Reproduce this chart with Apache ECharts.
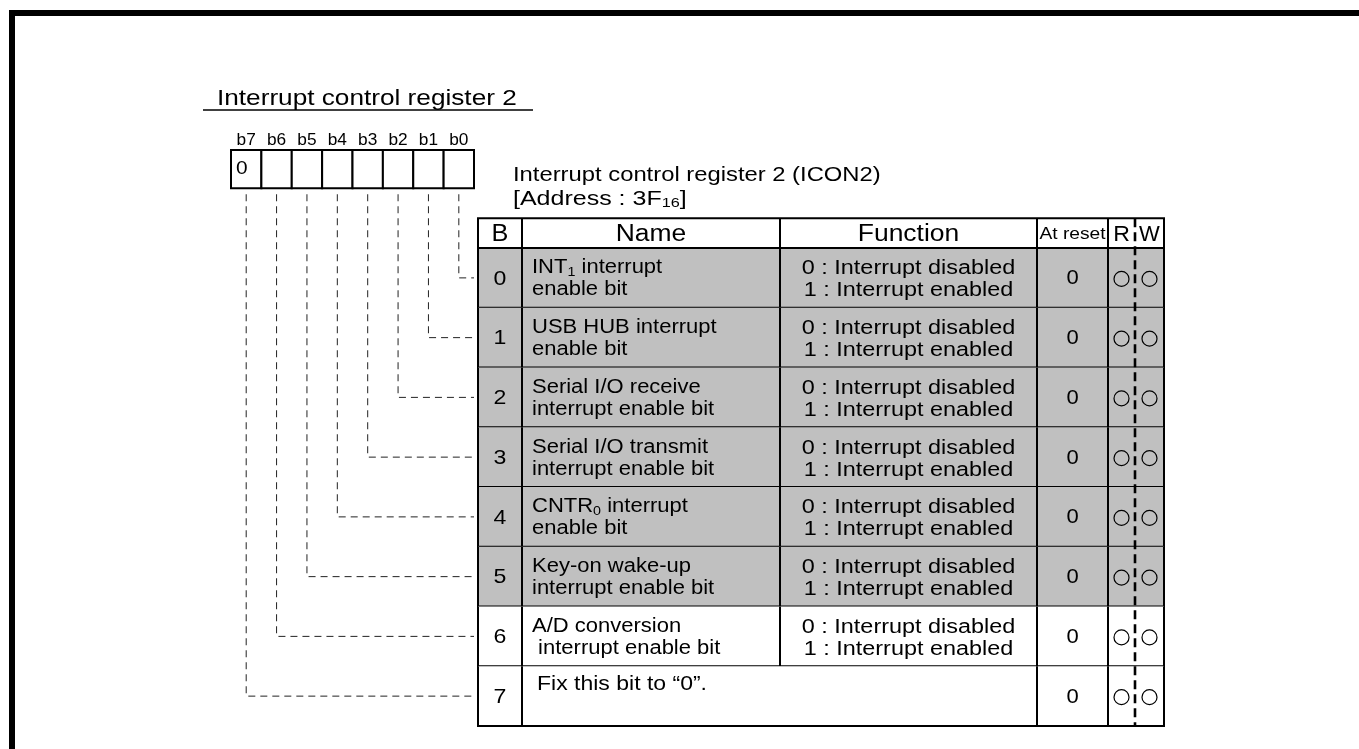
<!DOCTYPE html>
<html><head><meta charset="utf-8">
<script src="https://cdn.jsdelivr.net/npm/echarts@6/dist/echarts.min.js"></script>
<style>html,body{margin:0;padding:0;background:#fff}#c{width:1359px;height:749px}</style>
</head><body><div id="c"></div>
<script>
// ---------------- DATA ----------------
const title = 'Interrupt control register 2';
const registerName = 'Interrupt control register 2 (ICON2)';
const addressMain = '3F';
const addressSub = '16';
const bitIndices = [7, 6, 5, 4, 3, 2, 1, 0];
const bitBoxValues = ['0', '', '', '', '', '', '', ''];   // b7..b0
const headers = ['B', 'Name', 'Function', 'At reset', 'R', 'W'];
const bitNumbers = [0, 1, 2, 3, 4, 5, 6, 7];
const names = [
  ['INT_{1} interrupt', 'enable bit'],
  ['USB HUB interrupt', 'enable bit'],
  ['Serial I/O receive', 'interrupt enable bit'],
  ['Serial I/O transmit', 'interrupt enable bit'],
  ['CNTR_{0} interrupt', 'enable bit'],
  ['Key-on wake-up', 'interrupt enable bit'],
  ['A/D conversion', ' interrupt enable bit'],
  ['Fix this bit to \u201C0\u201D.']
];
const functions = [
  ['0 : Interrupt disabled', '1 : Interrupt enabled'],
  ['0 : Interrupt disabled', '1 : Interrupt enabled'],
  ['0 : Interrupt disabled', '1 : Interrupt enabled'],
  ['0 : Interrupt disabled', '1 : Interrupt enabled'],
  ['0 : Interrupt disabled', '1 : Interrupt enabled'],
  ['0 : Interrupt disabled', '1 : Interrupt enabled'],
  ['0 : Interrupt disabled', '1 : Interrupt enabled'],
  []
];
const resetValues = ['0', '0', '0', '0', '0', '0', '0', '0'];
const readable = [true, true, true, true, true, true, true, true];
const writable = [true, true, true, true, true, true, true, true];
const shaded = [true, true, true, true, true, true, false, false];

// ---------------- LAYOUT / STYLE ----------------
const FONT = '"Liberation Sans", Arial, Helvetica, sans-serif';
const GRAY = '#c0c0c0';
const TABLE_LEFT = 478, TABLE_TOP = 248, TABLE_W = 686, TABLE_H = 478;
const COL = [0, 44, 302, 559, 630, 657, 686]; // column edges (table units)
const RW_SPLIT = 5;                           // index of dashed edge
const HEADER_TOP = -0.5;
const BOX_TOP = -1.64, BOX_BOTTOM = -1.0, BIT_LABEL_Y = -1.8;
const REG_LEFT = 231, REG_W = 243;
const SX_NAME = 1.1, SX_FUNC = 1.17, SX_HEAD = 1.15, SX_TITLE = 1.19;

function toRich(s, base, sub) {
  return s.split(/(_\{[^}]*\})/).filter(x => x.length).map(p =>
    p.startsWith('_{') ? '{' + sub + '|' + p.slice(2, -1) + '}' : '{' + base + '|' + p + '}'
  ).join('');
}
const richStyles = {
  n: { fontSize: 20, fontFamily: FONT, lineHeight: 22, fill: '#000' },
  s: { fontSize: 13, fontFamily: FONT, fill: '#000', verticalAlign: 'bottom' }
};
function seg(x1, y1, x2, y2, w, dash) {
  return { type: 'line', shape: { x1, y1, x2, y2 },
    style: { stroke: '#000', lineWidth: w || 2, lineDash: dash || null } };
}
function txt(x, y, text, size, align, sx) {
  return { type: 'text', x, y, scaleX: sx || 1,
    style: { text, fill: '#000', fontSize: size, fontFamily: FONT,
      align: align || 'center', verticalAlign: 'middle' } };
}

const chart = echarts.init(document.getElementById('c'), null, { renderer: 'canvas' });

function rowRender(params, api) {
  const r = api.value(0);
  const P = (x, y) => api.coord([x, y]);
  const tl = P(COL[0], r), br = P(COL[6], r + 1);
  const yt = tl[1], yb = br[1], ym = (yt + yb) / 2;
  const ch = [];
  ch.push({ type: 'rect', shape: { x: tl[0], y: yt, width: br[0] - tl[0], height: yb - yt },
    style: { fill: shaded[r] ? GRAY : '#fff' } });
  const single = functions[r].length === 0;
  COL.forEach((c, i) => {
    if (i === RW_SPLIT) return;
    if (single && i === 2) return;
    const x = P(c, r)[0];
    ch.push(seg(x, yt, x, yb, 2));
  });
  ch.push(seg(tl[0] - 1, yb, br[0] + 1, yb, 2));
  const cx = (a, b) => (P(COL[a], r)[0] + P(COL[b], r)[0]) / 2;
  ch.push(txt(cx(0, 1), ym + 1, String(bitNumbers[r]), 21, 'center', 1.1));
  const nameText = names[r].map(l => toRich(l, 'n', 's')).join('\n');
  if (single) {
    ch.push({ type: 'text', x: P(COL[1], r)[0] + 15, y: yt + 18, scaleX: 1.15,
      style: { text: nameText, rich: richStyles, fontSize: 20, fontFamily: FONT,
        align: 'left', verticalAlign: 'middle' } });
  } else {
    ch.push({ type: 'text', x: P(COL[1], r)[0] + 10, y: ym + 1, scaleX: SX_NAME,
      style: { text: nameText, rich: richStyles, fontSize: 20, fontFamily: FONT,
        align: 'left', verticalAlign: 'middle' } });
    ch.push({ type: 'text', x: cx(2, 3), y: ym + 2, scaleX: SX_FUNC,
      style: { text: functions[r].join('\n'), fontSize: 20, lineHeight: 22, fontFamily: FONT,
        fill: '#000', align: 'center', verticalAlign: 'middle' } });
  }
  ch.push(txt(cx(3, 4), ym + 1, resetValues[r], 20, 'center', 1.1));
  if (readable[r]) ch.push({ type: 'circle', shape: { cx: cx(4, 5), cy: ym + 1, r: 7.5 },
    style: { fill: 'none', stroke: '#000', lineWidth: 1.2 } });
  if (writable[r]) ch.push({ type: 'circle', shape: { cx: cx(5, 6), cy: ym + 1, r: 7.5 },
    style: { fill: 'none', stroke: '#000', lineWidth: 1.2 } });
  return { type: 'group', children: ch };
}

function headerRender(params, api) {
  const P = (x, y) => api.coord([x, y]);
  const tl = P(COL[0], HEADER_TOP), br = P(COL[6], 0);
  const yt = tl[1], yb = br[1], ym = (yt + yb) / 2;
  const ch = [];
  ch.push({ type: 'rect', shape: { x: tl[0], y: yt, width: br[0] - tl[0], height: yb - yt },
    style: { fill: '#fff' } });
  ch.push(seg(tl[0] - 1, yt, br[0] + 1, yt, 2));
  ch.push(seg(tl[0] - 1, yb, br[0] + 1, yb, 2));
  COL.forEach((c, i) => {
    if (i === RW_SPLIT) return;
    const x = P(c, 0)[0];
    ch.push(seg(x, yt, x, yb, 2));
  });
  const cx = (a, b) => (P(COL[a], 0)[0] + P(COL[b], 0)[0]) / 2;
  const sizes = [23, 23, 23, 16, 22, 22];
  const sxs = [1.1, SX_HEAD, SX_HEAD, 1.2, 1.05, 1.0];
  headers.forEach((h, i) => ch.push(txt(cx(i, i + 1), ym + 2, h, sizes[i], 'center', sxs[i])));
  return { type: 'group', children: ch };
}

function splitRender(params, api) {
  const top = api.coord([COL[RW_SPLIT], HEADER_TOP]);
  const bot = api.coord([COL[RW_SPLIT], bitNumbers.length]);
  return seg(top[0], top[1], bot[0], bot[1], 2.6, [9, 5]);
}

function regRender(params, api) {
  const b = api.value(0);
  const idx = params.dataIndex;
  const xa = api.coord([b + 0.5, BOX_TOP])[0], xb = api.coord([b - 0.5, BOX_TOP])[0];
  const x0 = Math.min(xa, xb), x1 = Math.max(xa, xb);
  const y0 = api.coord([b, BOX_TOP])[1], y1 = api.coord([b, BOX_BOTTOM])[1];
  const c = api.coord([b, b + 0.5]);
  const ch = [];
  ch.push({ type: 'polyline', shape: { points: [[c[0], y1 + 6], [c[0], c[1]], [TABLE_LEFT - 4, c[1]]] },
    style: { fill: 'none', stroke: '#222', lineWidth: 1, lineDash: [7, 5] } });
  ch.push({ type: 'rect', shape: { x: x0, y: y0, width: x1 - x0, height: y1 - y0 },
    style: { fill: '#fff', stroke: '#000', lineWidth: 2 } });
  ch.push(txt(c[0], api.coord([b, BIT_LABEL_Y])[1], 'b' + b, 16, 'center', 1.08));
  if (bitBoxValues[idx]) ch.push(txt(x0 + 5, (y0 + y1) / 2, bitBoxValues[idx], 19, 'left', 1.1));
  return { type: 'group', children: ch };
}

const option = {
  backgroundColor: '#fff',
  animation: false,
  grid: [
    { left: TABLE_LEFT, top: TABLE_TOP, width: TABLE_W, height: TABLE_H },
    { left: REG_LEFT, top: TABLE_TOP, width: REG_W, height: TABLE_H }
  ],
  xAxis: [
    { type: 'value', gridIndex: 0, min: COL[0], max: COL[6], show: false },
    { type: 'value', gridIndex: 1, min: -0.5, max: 7.5, inverse: true, show: false }
  ],
  yAxis: [
    { type: 'value', gridIndex: 0, min: 0, max: bitNumbers.length, inverse: true, show: false },
    { type: 'value', gridIndex: 1, min: 0, max: bitNumbers.length, inverse: true, show: false }
  ],
  graphic: [
    { type: 'rect', shape: { x: 9, y: 10, width: 1350, height: 6 }, style: { fill: '#000' } },
    { type: 'rect', shape: { x: 9, y: 10, width: 6, height: 739 }, style: { fill: '#000' } },
    { type: 'text', x: 217, y: 99, scaleX: SX_TITLE, style: { text: title, fontSize: 22, fontFamily: FONT, fill: '#000', verticalAlign: 'middle' } },
    { type: 'line', shape: { x1: 203, y1: 110, x2: 533, y2: 110 }, style: { stroke: '#000', lineWidth: 1.5 } },
    { type: 'text', x: 513, y: 175, scaleX: SX_TITLE, style: { text: registerName, fontSize: 20, fontFamily: FONT, fill: '#000', verticalAlign: 'middle' } },
    { type: 'text', x: 513, y: 199, scaleX: 1.25, style: { text: '{n|[Address : ' + addressMain + '}{s|' + addressSub + '}{n|]}',
      rich: { n: { fontSize: 20, fontFamily: FONT, lineHeight: 22 }, s: { fontSize: 13, fontFamily: FONT, verticalAlign: 'bottom' } },
      verticalAlign: 'middle' } }
  ],
  series: [
    { type: 'custom', xAxisIndex: 0, yAxisIndex: 0, silent: true, clip: false,
      data: bitNumbers.map(b => [b]), renderItem: rowRender, z: 2 },
    { type: 'custom', xAxisIndex: 0, yAxisIndex: 0, silent: true, clip: false,
      data: [[0]], renderItem: headerRender, z: 3 },
    { type: 'custom', xAxisIndex: 0, yAxisIndex: 0, silent: true, clip: false,
      data: [[0]], renderItem: splitRender, z: 4 },
    { type: 'custom', xAxisIndex: 1, yAxisIndex: 1, silent: true, clip: false,
      data: bitIndices.map(b => [b]), renderItem: regRender, z: 1 }
  ]
};
chart.setOption(option);
</script>
</body></html>
